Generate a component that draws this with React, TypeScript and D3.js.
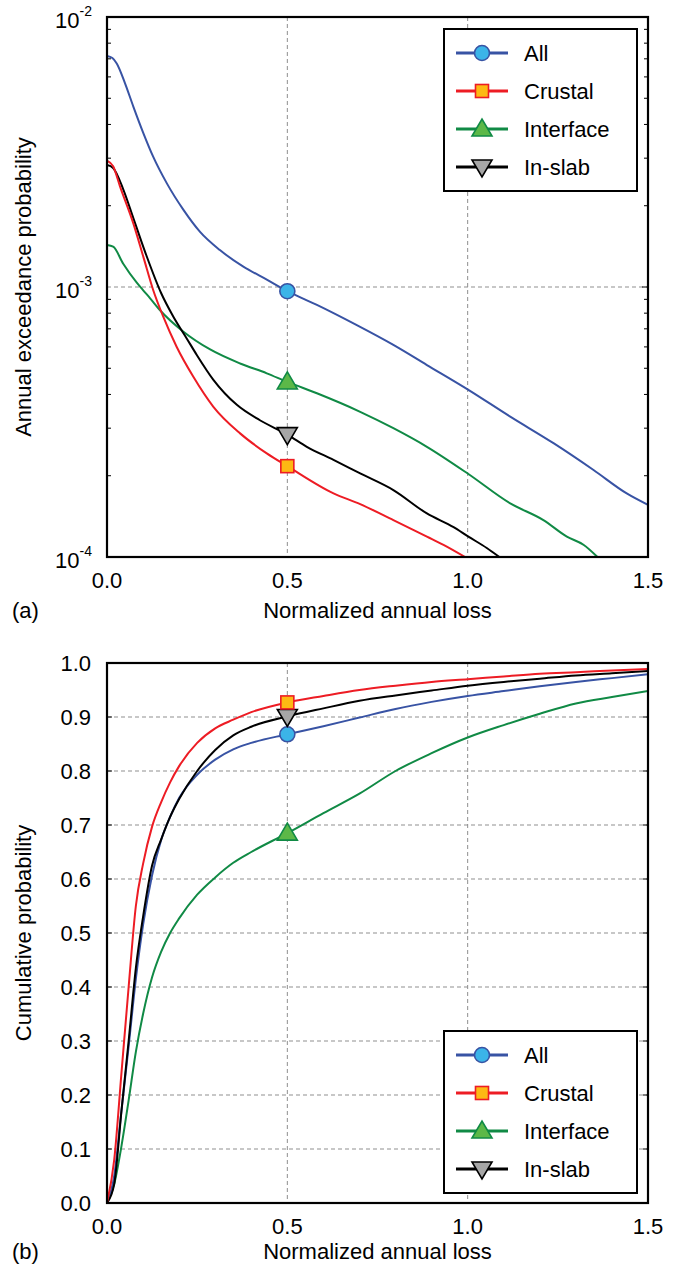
import React from "react";
import * as d3 from "d3";

// ---------- Data ----------
const seriesNames = ["All", "Crustal", "Interface", "In-slab"];

// (a) annual exceedance probability vs normalized annual loss
const lossA_all = [0, 0.015, 0.027, 0.05, 0.073, 0.101, 0.128, 0.166, 0.212, 0.258, 0.313, 0.378, 0.443, 0.5, 0.582, 0.69, 0.794, 0.887, 1.002, 1.118, 1.238, 1.349, 1.441, 1.5];
const probA_all = [7.17e-3, 7.05e-3, 6.73e-3, 5.68e-3, 4.66e-3, 3.71e-3, 3.04e-3, 2.42e-3, 1.93e-3, 1.6e-3, 1.37e-3, 1.19e-3, 1.065e-3, 9.65e-4, 8.58e-4, 7.25e-4, 6.1e-4, 5.14e-4, 4.16e-4, 3.31e-4, 2.64e-4, 2.1e-4, 1.72e-4, 1.56e-4];

const lossA_crustal = [0, 0.017, 0.036, 0.073, 0.101, 0.128, 0.156, 0.193, 0.239, 0.295, 0.369, 0.443, 0.5, 0.628, 0.702, 0.794, 0.887, 0.933, 0.993];
const probA_crustal = [2.94e-3, 2.8e-3, 2.36e-3, 1.72e-3, 1.29e-3, 9.75e-4, 7.76e-4, 6.01e-4, 4.66e-4, 3.6e-4, 2.87e-4, 2.42e-4, 2.17e-4, 1.72e-4, 1.57e-4, 1.37e-4, 1.19e-4, 1.11e-4, 1.0e-4];

const lossA_interface = [0, 0.017, 0.045, 0.082, 0.101, 0.119, 0.147, 0.212, 0.286, 0.369, 0.443, 0.5, 0.582, 0.702, 0.794, 0.887, 1.002, 1.118, 1.21, 1.275, 1.321, 1.36];
const probA_interface = [1.43e-3, 1.41e-3, 1.22e-3, 1.04e-3, 9.7e-4, 9.1e-4, 8.2e-4, 6.83e-4, 5.87e-4, 5.21e-4, 4.79e-4, 4.45e-4, 4.04e-4, 3.45e-4, 3.0e-4, 2.56e-4, 2.03e-4, 1.58e-4, 1.37e-4, 1.19e-4, 1.11e-4, 1.0e-4];

const lossA_inslab = [0, 0.017, 0.045, 0.073, 0.11, 0.15, 0.184, 0.221, 0.249, 0.295, 0.36, 0.424, 0.5, 0.554, 0.628, 0.702, 0.794, 0.887, 0.961, 1.002, 1.053, 1.088];
const probA_inslab = [2.83e-3, 2.76e-3, 2.3e-3, 1.8e-3, 1.3e-3, 9.5e-4, 7.76e-4, 6.45e-4, 5.6e-4, 4.53e-4, 3.66e-4, 3.21e-4, 2.84e-4, 2.56e-4, 2.29e-4, 2.04e-4, 1.77e-4, 1.45e-4, 1.29e-4, 1.19e-4, 1.08e-4, 1.0e-4];

// (b) cumulative probability vs normalized annual loss
const lossB = [0, 0.02, 0.04, 0.06, 0.08, 0.1, 0.125, 0.15, 0.175, 0.2, 0.25, 0.3, 0.35, 0.4, 0.5, 0.6, 0.7, 0.8, 0.9, 1.0, 1.1, 1.2, 1.3, 1.4, 1.5];
const cumB_all = [0, 0.05, 0.17, 0.29, 0.415, 0.515, 0.607, 0.672, 0.715, 0.75, 0.793, 0.821, 0.84, 0.852, 0.868, 0.883, 0.899, 0.915, 0.928, 0.939, 0.948, 0.957, 0.965, 0.972, 0.979];
const cumB_crustal = [0, 0.08, 0.24, 0.4, 0.55, 0.628, 0.697, 0.742, 0.779, 0.809, 0.852, 0.879, 0.895, 0.909, 0.927, 0.939, 0.95, 0.958, 0.965, 0.97, 0.975, 0.98, 0.983, 0.986, 0.989];
const cumB_interface = [0, 0.035, 0.105, 0.19, 0.28, 0.35, 0.418, 0.465, 0.5, 0.527, 0.571, 0.603, 0.63, 0.65, 0.685, 0.722, 0.758, 0.8, 0.833, 0.862, 0.885, 0.906, 0.925, 0.937, 0.948];
const cumB_inslab = [0, 0.035, 0.17, 0.3, 0.435, 0.53, 0.625, 0.673, 0.715, 0.748, 0.8, 0.839, 0.866, 0.882, 0.901, 0.916, 0.93, 0.94, 0.949, 0.958, 0.965, 0.971, 0.977, 0.981, 0.985];

const markerLoss = 0.5;

const xTicks = [0, 0.5, 1.0, 1.5];
const xTickLabels = ["0.0", "0.5", "1.0", "1.5"];
const logTicks = [1e-4, 1e-3, 1e-2];
const logTickExp = ["-4", "-3", "-2"];
const linTicks = [0, 0.1, 0.2, 0.3, 0.4, 0.5, 0.6, 0.7, 0.8, 0.9, 1.0];

// ---------- Styles ----------
const FONT = "'Liberation Sans', Arial, Helvetica, sans-serif";
const FS = 22;
const styles = [
  { line: "#3853a4", fill: "#3bb4e8", stroke: "#3853a4", shape: "circle" },
  { line: "#ed1c24", fill: "#fdb913", stroke: "#ed1c24", shape: "square" },
  { line: "#108a45", fill: "#5cb848", stroke: "#108a45", shape: "up" },
  { line: "#000000", fill: "#a6a6a6", stroke: "#000000", shape: "down" },
];

const L = 107, R = 648;
const TA = 17, BA = 557;
const TB = 663, BB = 1203;

const x = d3.scaleLinear().domain([0, 1.5]).range([L, R]);
const yA = d3.scaleLog().domain([1e-4, 1e-2]).range([BA, TA]);
const yB = d3.scaleLinear().domain([0, 1]).range([BB, TB]);

function Marker({ shape, cx, cy, fill, stroke }: any) {
  if (shape === "circle") return <circle cx={cx} cy={cy} r={7.5} fill={fill} stroke={stroke} strokeWidth={1.6} />;
  if (shape === "square") return <rect x={cx - 6.5} y={cy - 6.5} width={13} height={13} fill={fill} stroke={stroke} strokeWidth={1.6} />;
  if (shape === "up") return <path d={`M${cx - 10},${cy + 7} L${cx + 10},${cy + 7} L${cx},${cy - 10} Z`} fill={fill} stroke={stroke} strokeWidth={1.6} />;
  return <path d={`M${cx - 10},${cy - 7} L${cx + 10},${cy - 7} L${cx},${cy + 10} Z`} fill={fill} stroke={stroke} strokeWidth={1.6} />;
}

function interp(xs: number[], ys: number[], v: number, log: boolean) {
  for (let i = 0; i < xs.length - 1; i++) {
    if (v >= xs[i] && v <= xs[i + 1]) {
      const t = (v - xs[i]) / (xs[i + 1] - xs[i]);
      if (log) return Math.pow(10, Math.log10(ys[i]) + t * (Math.log10(ys[i + 1]) - Math.log10(ys[i])));
      return ys[i] + t * (ys[i + 1] - ys[i]);
    }
  }
  return ys[ys.length - 1];
}

function Legend({ top }: { top: number }) {
  const bx = 444, bw = 193, bh = 162;
  return (
    <g>
      <rect x={bx} y={top} width={bw} height={bh} fill="#fff" stroke="#000" strokeWidth={2} />
      {seriesNames.map((n, i) => {
        const cy = top + 24 + i * 38;
        const s = styles[i];
        return (
          <g key={n}>
            <line x1={456} x2={508} y1={cy} y2={cy} stroke={s.line} strokeWidth={3.2} />
            <Marker shape={s.shape} cx={482} cy={cy} fill={s.fill} stroke={s.stroke} />
            <text x={524} y={cy} dominantBaseline="central" fontSize={FS} fontFamily={FONT}>{n}</text>
          </g>
        );
      })}
    </g>
  );
}

export default function App() {
  const lineA = d3.line<[number, number]>().x((d) => x(d[0])).y((d) => yA(d[1])).curve(d3.curveMonotoneX);
  const lineB = d3.line<[number, number]>().x((d) => x(d[0])).y((d) => yB(d[1])).curve(d3.curveMonotoneX);

  const seriesA: [number[], number[]][] = [
    [lossA_all, probA_all],
    [lossA_crustal, probA_crustal],
    [lossA_interface, probA_interface],
    [lossA_inslab, probA_inslab],
  ];
  const seriesB = [cumB_all, cumB_crustal, cumB_interface, cumB_inslab];
  const drawOrder = [2, 0, 3, 1];

  const minorLog: number[] = [];
  [1e-4, 1e-3].forEach((d) => {
    for (let k = 2; k <= 9; k++) minorLog.push(k * d);
  });

  const grid = "#8f8f8f";
  const dash = "4 3";

  return (
    <svg width={678} height={1268} style={{ position: "absolute", left: 0, top: 0, background: "#fff" }}>
      <defs>
        <clipPath id="clipA"><rect x={L} y={TA} width={R - L} height={BA - TA} /></clipPath>
        <clipPath id="clipB"><rect x={L} y={TB} width={R - L} height={BB - TB} /></clipPath>
      </defs>
      <rect x={0} y={0} width={678} height={1268} fill="#fff" />

      {/* ===== Panel (a) ===== */}
      {[0.5, 1.0].map((v) => (
        <line key={"gxa" + v} x1={x(v)} x2={x(v)} y1={TA} y2={BA} stroke={grid} strokeDasharray={dash} strokeWidth={1} />
      ))}
      <line x1={L} x2={R} y1={yA(1e-3)} y2={yA(1e-3)} stroke={grid} strokeDasharray={dash} strokeWidth={1} />
      {minorLog.map((v) => (
        <g key={"mt" + v}>
          <line x1={L} x2={L + 4} y1={yA(v)} y2={yA(v)} stroke="#000" strokeWidth={1} />
          <line x1={R - 4} x2={R} y1={yA(v)} y2={yA(v)} stroke="#000" strokeWidth={1} />
        </g>
      ))}
      <line x1={R - 6} x2={R} y1={yA(1e-3)} y2={yA(1e-3)} stroke="#000" strokeWidth={1} />
      <g clipPath="url(#clipA)">
        {drawOrder.map((i) => (
          <path key={"la" + i} d={lineA(seriesA[i][0].map((v, j) => [v, seriesA[i][1][j]] as [number, number])) || ""} fill="none" stroke={styles[i].line} strokeWidth={2} />
        ))}
      </g>
      {drawOrder.map((i) => (
        <Marker key={"ma" + i} shape={styles[i].shape} cx={x(markerLoss)} cy={yA(interp(seriesA[i][0], seriesA[i][1], markerLoss, true))} fill={styles[i].fill} stroke={styles[i].stroke} />
      ))}
      <rect x={L} y={TA} width={R - L} height={BA - TA} fill="none" stroke="#000" strokeWidth={2.2} />
      {logTicks.map((v, i) => (
        <text key={"lt" + v} x={92} y={yA(v) + 3} textAnchor="end" dominantBaseline="central" fontSize={FS} fontFamily={FONT}>
          10<tspan dy={-9} fontSize={14}>{logTickExp[i]}</tspan>
        </text>
      ))}
      {xTicks.map((v, i) => (
        <text key={"xa" + v} x={x(v)} y={BA + 31} textAnchor="middle" fontSize={FS} fontFamily={FONT}>{xTickLabels[i]}</text>
      ))}
      <text x={(L + R) / 2} y={618} textAnchor="middle" fontSize={FS} fontFamily={FONT}>Normalized annual loss</text>
      <text x={12} y={618} fontSize={FS} fontFamily={FONT}>(a)</text>
      <text transform={`translate(31,${(TA + BA) / 2}) rotate(-90)`} textAnchor="middle" fontSize={FS} fontFamily={FONT}>Annual exceedance probability</text>
      <Legend top={29} />

      {/* ===== Panel (b) ===== */}
      {[0.5, 1.0].map((v) => (
        <line key={"gxb" + v} x1={x(v)} x2={x(v)} y1={TB} y2={BB} stroke={grid} strokeDasharray={dash} strokeWidth={1} />
      ))}
      {linTicks.filter((v) => v > 0 && v < 1).map((v) => (
        <g key={"gyb" + v}>
          <line x1={L} x2={R} y1={yB(v)} y2={yB(v)} stroke={grid} strokeDasharray={dash} strokeWidth={1} />
          <line x1={R - 5} x2={R} y1={yB(v)} y2={yB(v)} stroke="#000" strokeWidth={1} />
          <line x1={L} x2={L + 5} y1={yB(v)} y2={yB(v)} stroke="#000" strokeWidth={1} />
        </g>
      ))}
      <g clipPath="url(#clipB)">
        {drawOrder.map((i) => (
          <path key={"lb" + i} d={lineB(lossB.map((v, j) => [v, seriesB[i][j]] as [number, number])) || ""} fill="none" stroke={styles[i].line} strokeWidth={2} />
        ))}
      </g>
      <Legend top={1031} />
      {drawOrder.map((i) => (
        <Marker key={"mb" + i} shape={styles[i].shape} cx={x(markerLoss)} cy={yB(interp(lossB, seriesB[i], markerLoss, false))} fill={styles[i].fill} stroke={styles[i].stroke} />
      ))}
      <rect x={L} y={TB} width={R - L} height={BB - TB} fill="none" stroke="#000" strokeWidth={2.2} />
      {linTicks.map((v) => (
        <text key={"yb" + v} x={91} y={yB(v)} textAnchor="end" dominantBaseline="central" fontSize={FS} fontFamily={FONT}>{v.toFixed(1)}</text>
      ))}
      {xTicks.map((v, i) => (
        <text key={"xb" + v} x={x(v)} y={BB + 31} textAnchor="middle" fontSize={FS} fontFamily={FONT}>{xTickLabels[i]}</text>
      ))}
      <text x={(L + R) / 2} y={1259} textAnchor="middle" fontSize={FS} fontFamily={FONT}>Normalized annual loss</text>
      <text x={12} y={1259} fontSize={FS} fontFamily={FONT}>(b)</text>
      <text transform={`translate(31,${(TB + BB) / 2}) rotate(-90)`} textAnchor="middle" fontSize={FS} fontFamily={FONT}>Cumulative probability</text>
    </svg>
  );
}
